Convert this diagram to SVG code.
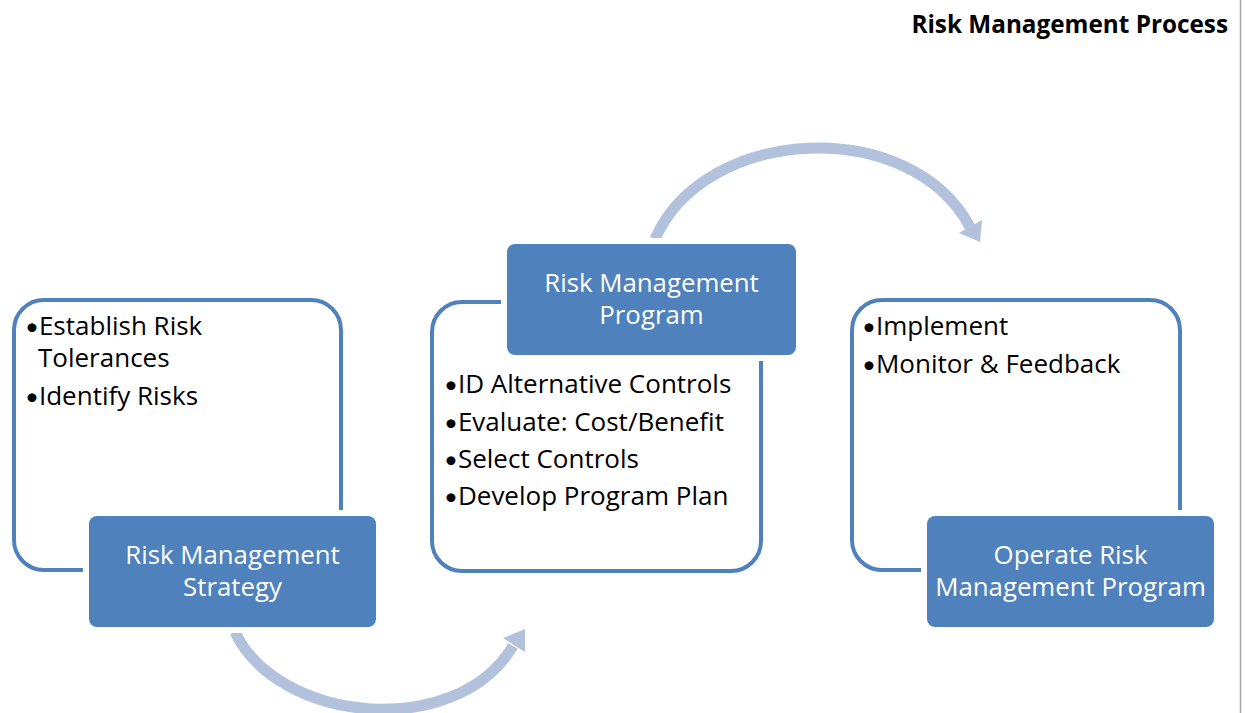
<svg xmlns="http://www.w3.org/2000/svg" width="1246" height="713" viewBox="0 0 1246 713">
<style>
.outline{fill:#FFFFFF;stroke:#4F81BD;stroke-width:4}
.gap{fill:#FFFFFF}
.box{fill:#4F81BD}
text{font-variant-ligatures:none}
.lbl{font-family:"Open Sans",Lato,sans-serif;font-size:25.8px;fill:#FFFFFF;text-anchor:middle}
.bul{font-family:"Open Sans",Lato,sans-serif;font-size:26px;fill:#000000}
.dot{font-family:Lato,sans-serif;font-size:24px}
.title{font-family:"Open Sans",Lato,sans-serif;font-size:24.3px;font-weight:bold;fill:#000000;text-anchor:end}
.shaft{fill:none;stroke:#B2C2DC;stroke-width:11}
.head{fill:#B2C2DC}
</style>
<rect width="1246" height="713" fill="#FFFFFF"/>
<line x1="1240.5" y1="0" x2="1240.5" y2="713" stroke="#A6A6A6" stroke-width="1.5"/>
<text class="title" x="1228" y="33">Risk Management Process</text>
<g id="connectors">
<path class="shaft" d="M655,239 C705,125 910,115 970,227"/>
<polygon class="head" points="959,233 982,220 980,242"/>
<path class="shaft" d="M235,632 C277,722 455,742 513,646"/>
<polygon class="head" points="503,638 525,629 525,652"/>
</g>
<g id="strategy">
<rect class="outline" x="14" y="300" width="327" height="270" rx="30"/>
<rect class="gap" x="83" y="510" width="299" height="123" rx="10"/>
<rect class="box" x="89" y="516" width="287" height="111" rx="8"/>
<text class="lbl" x="232.5" y="564">Risk Management</text>
<text class="lbl" x="232.5" y="596">Strategy</text>
<text class="bul" x="25" y="335"><tspan class="dot">•</tspan>Establish Risk</text>
<text class="bul" x="38" y="367">Tolerances</text>
<text class="bul" x="25" y="405"><tspan class="dot">•</tspan>Identify Risks</text>
</g>
<g id="program">
<rect class="outline" x="432" y="302" width="329" height="269" rx="30"/>
<rect class="gap" x="501" y="238" width="301" height="123" rx="10"/>
<rect class="box" x="507" y="244" width="289" height="111" rx="8"/>
<text class="lbl" x="651.5" y="292">Risk Management</text>
<text class="lbl" x="651.5" y="324">Program</text>
<text class="bul" x="444" y="393"><tspan class="dot">•</tspan>ID Alternative Controls</text>
<text class="bul" x="444" y="431"><tspan class="dot">•</tspan>Evaluate: Cost/Benefit</text>
<text class="bul" x="444" y="468"><tspan class="dot">•</tspan>Select Controls</text>
<text class="bul" x="444" y="505"><tspan class="dot">•</tspan>Develop Program Plan</text>
</g>
<g id="operate">
<rect class="outline" x="852" y="300" width="328" height="270" rx="30"/>
<rect class="gap" x="921" y="510" width="299" height="123" rx="10"/>
<rect class="box" x="927" y="516" width="287" height="111" rx="8"/>
<text class="lbl" x="1070.5" y="564">Operate Risk</text>
<text class="lbl" x="1070.5" y="596">Management Program</text>
<text class="bul" x="862" y="335"><tspan class="dot">•</tspan>Implement</text>
<text class="bul" x="862" y="373"><tspan class="dot">•</tspan>Monitor &amp; Feedback</text>
</g>
</svg>
